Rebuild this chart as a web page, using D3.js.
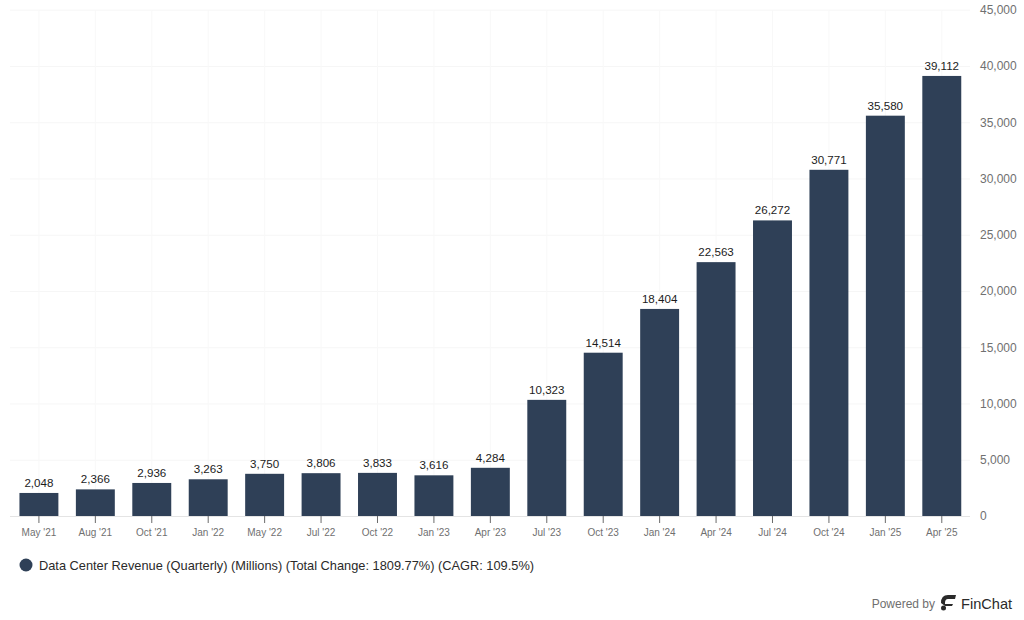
<!DOCTYPE html>
<html><head><meta charset="utf-8">
<script src="https://cdn.jsdelivr.net/npm/d3@7"></script>
<style>html,body{margin:0;padding:0;background:#fff;overflow:hidden}svg{display:block}text{font-family:"Liberation Sans",sans-serif}</style>
</head><body><svg id="c" width="1024" height="620"></svg>
<script>
const categories=["May '21","Aug '21","Oct '21","Jan '22","May '22","Jul '22","Oct '22","Jan '23","Apr '23","Jul '23","Oct '23","Jan '24","Apr '24","Jul '24","Oct '24","Jan '25","Apr '25"];
const revenue=[2048,2366,2936,3263,3750,3806,3833,3616,4284,10323,14514,18404,22563,26272,30771,35580,39112];
const yTicks=[0,5000,10000,15000,20000,25000,30000,35000,40000,45000];
const legendText="Data Center Revenue (Quarterly) (Millions) (Total Change: 1809.77%) (CAGR: 109.5%)";
const svg=d3.select("#c");
const x=d3.scaleBand().domain(categories).range([10.7,970]).paddingInner(0.31).paddingOuter(0.155);
const y=d3.scaleLinear().domain([0,45000]).range([516,9.7]);
const fmt=d3.format(",");
const sans="Liberation Sans";
// grid
svg.append("g").selectAll("line").data(yTicks.slice(1)).join("line")
 .attr("x1",10).attr("x2",970).attr("y1",d=>y(d)+.5).attr("y2",d=>y(d)+.5).attr("stroke","#f6f6f6");
svg.append("g").selectAll("line").data(categories).join("line")
 .attr("x1",d=>x(d)+x.bandwidth()/2).attr("x2",d=>x(d)+x.bandwidth()/2).attr("y1",10).attr("y2",516).attr("stroke","#f8f8f8");
// bars
svg.append("g").selectAll("rect").data(revenue).join("rect")
 .attr("x",(d,i)=>x(categories[i])).attr("width",x.bandwidth())
 .attr("y",d=>y(d)).attr("height",d=>y(0)-y(d)).attr("fill","#2f4057");
// bar labels
svg.append("g").selectAll("text").data(revenue).join("text")
 .attr("x",(d,i)=>x(categories[i])+x.bandwidth()/2).attr("y",d=>y(d)-6)
 .attr("text-anchor","middle").attr("font-size",11.6).attr("fill","#1c1c1c").attr("font-family",sans).text(d=>fmt(d));
// x axis
const xAxis=svg.append("g").attr("transform","translate(0,516)").call(d3.axisBottom(x).tickSize(7).tickPadding(6));
xAxis.select(".domain").attr("stroke","#e4e4e4").attr("d","M10,0.5H970");
xAxis.selectAll(".tick line").attr("stroke","#6b6b6b");
xAxis.selectAll("text").attr("font-size",10).attr("fill","#707070").attr("font-family",sans);
// y axis
const yAxis=svg.append("g").attr("transform","translate(970,0)").call(d3.axisRight(y).tickValues(yTicks).tickFormat(fmt).tickSize(0).tickPadding(10));
yAxis.select(".domain").remove();
yAxis.selectAll("text").attr("font-size",12).attr("fill","#707070").attr("font-family",sans);
// legend
svg.append("circle").attr("cx",26).attr("cy",565).attr("r",6.5).attr("fill","#2f4057");
svg.append("text").attr("x",39).attr("y",570).attr("font-size",12.8).attr("fill","#2a2a2a").attr("font-family",sans).text(legendText);
// branding
svg.append("text").attr("x",935).attr("y",608).attr("text-anchor","end").attr("font-size",12).attr("fill","#6f6f6f").attr("font-family","Inter").text("Powered by");
const logo=svg.append("g").attr("fill","#2a2a2a");
logo.append("path").attr("d","M941,603 Q941,595 948,595 H956 L955,599 H948 Q945,599 945,603 V604 H953 L952,606 H945 Z");
logo.append("circle").attr("cx",943.5).attr("cy",608).attr("r",2.5);
svg.append("text").attr("x",961).attr("y",608.5).attr("font-size",14.6).attr("font-weight",500).attr("fill","#2a2a2a").attr("font-family","Inter").text("FinChat");
</script></body></html>
